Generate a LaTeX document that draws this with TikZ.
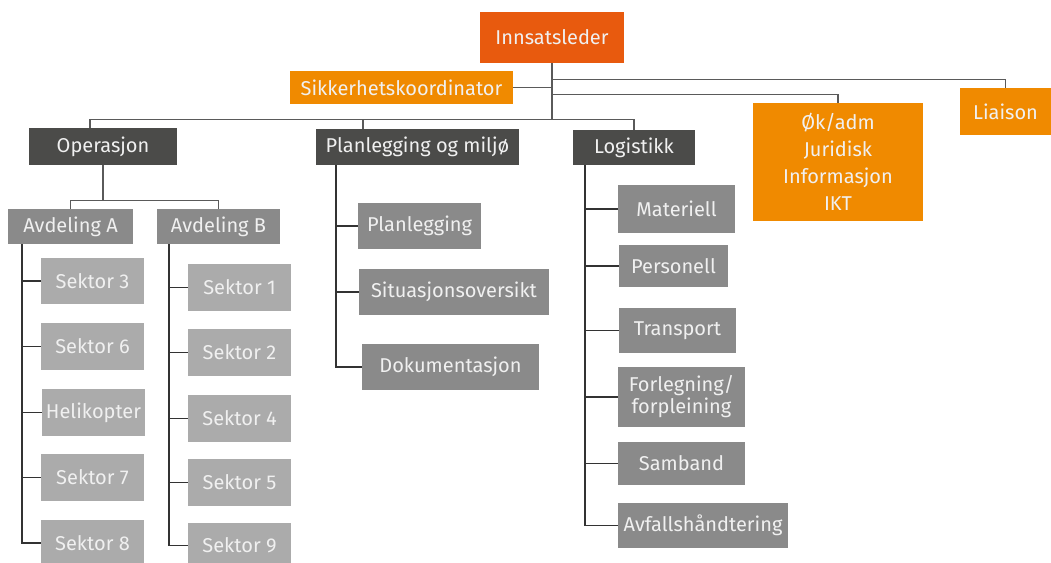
\documentclass[tikz,border=0pt]{standalone}
\usepackage{fontspec}
\setmainfont{Fira Sans}
\definecolor{insor}{HTML}{E85A0E}
\definecolor{ora}{HTML}{F08A00}
\definecolor{dark}{HTML}{4B4B49}
\definecolor{midg}{HTML}{8A8A8A}
\definecolor{ligg}{HTML}{ABABAB}
\definecolor{txt}{HTML}{F0F0F0}
\definecolor{linec}{HTML}{5A5A5A}
\begin{document}
\begin{tikzpicture}[x=1pt,y=-1pt,
  box/.style={inner sep=0pt, text=txt, font=\fontsize{20}{23}\selectfont, align=center},
  insbox/.style={box, fill=insor},
  orbox/.style={box, fill=ora},
  dkbox/.style={box, fill=dark},
  mdbox/.style={box, fill=midg},
  ltbox/.style={box, fill=ligg},
  conn/.style={draw=linec, line width=1.3pt},
  trunk/.style={draw=black!80, line width=1.4pt}]
\useasboundingbox (0,0) rectangle (1051,562);
\fill[white] (0,0) rectangle (1051,562);

% top level
\node[insbox, minimum width=144, minimum height=51] (ins) at (552,37.5) {Innsatsleder};
\node[orbox, minimum width=223, minimum height=33] (sik) at (401.5,87.5) {Sikkerhetskoordinator};
\node[orbox, minimum width=170, minimum height=118, font=\fontsize{20}{27}\selectfont] (ok) at (838,162) {Øk/adm\\Juridisk\\Informasjon\\IKT};
\node[orbox, minimum width=91, minimum height=47] (lia) at (1005.5,111.5) {Liaison};

% second level
\node[dkbox, minimum width=148, minimum height=37] (op) at (103,146.5) {Operasjon};
\node[dkbox, minimum width=203, minimum height=36] (plm) at (417.5,147) {Planlegging og miljø};
\node[dkbox, minimum width=122, minimum height=35] (log) at (634,147.5) {Logistikk};

% Operasjon
\node[mdbox, minimum width=125, minimum height=35] (avA) at (70.5,226.5) {Avdeling A};
\node[mdbox, minimum width=123, minimum height=35] (avB) at (218.5,226.5) {Avdeling B};

\node[ltbox, minimum width=103, minimum height=46] (s3) at (92.5,281) {Sektor 3};
\node[ltbox, minimum width=103, minimum height=47] (s6) at (92.5,346.5) {Sektor 6};
\node[ltbox, minimum width=103, minimum height=47] (heli) at (93.5,412.5) {Helikopter};
\node[ltbox, minimum width=103, minimum height=47] (s7) at (92.5,477.5) {Sektor 7};
\node[ltbox, minimum width=103, minimum height=46] (s8) at (92.5,543) {Sektor 8};

\node[ltbox, minimum width=103, minimum height=47] (s1) at (239.5,287.5) {Sektor 1};
\node[ltbox, minimum width=103, minimum height=47] (s2) at (239.5,352.5) {Sektor 2};
\node[ltbox, minimum width=103, minimum height=47] (s4) at (239.5,418.5) {Sektor 4};
\node[ltbox, minimum width=103, minimum height=47] (s5) at (239.5,482.5) {Sektor 5};
\node[ltbox, minimum width=103, minimum height=45] (s9) at (239.5,545.5) {Sektor 9};

% Planlegging
\node[mdbox, minimum width=123, minimum height=46] (pl) at (419.5,226) {Planlegging};
\node[mdbox, minimum width=190, minimum height=46] (sit) at (454,292) {Situasjonsoversikt};
\node[mdbox, minimum width=177, minimum height=46] (dok) at (450.5,367) {Dokumentasjon};

% Logistikk
\node[mdbox, minimum width=117, minimum height=48] (mat) at (676.5,209) {Materiell};
\node[mdbox, minimum width=109, minimum height=42] (per) at (673.5,266) {Personell};
\node[mdbox, minimum width=117, minimum height=45] (tra) at (677.5,330.5) {Transport};
\node[mdbox, minimum width=127, minimum height=60, font=\fontsize{20}{22}\selectfont] (for) at (681.5,397) {Forlegning/\\forpleining};
\node[mdbox, minimum width=127, minimum height=43] (sam) at (681.5,463.5) {Samband};
\node[mdbox, minimum width=170, minimum height=45] (avf) at (703,525.5) {Avfallshåndtering};

% top connectors
\draw[conn] (ins.south) -- ++(0,56) coordinate (j);
\draw[conn] (sik.east) -- (sik.east -| ins.south);
\draw[conn] (ins.south) ++(0,16) -| (lia.north);
\draw[conn] (ins.south) ++(0,31) -| (ok.north);
\draw[conn] ([xshift=-13pt]op.north) |- (j);
\draw[conn] (j) -| (log.north);
\draw[conn] ([xshift=-54.5pt]plm.north) -- ++(0,-10);

% Operasjon connectors
\draw[conn] (op.south) -- ++(0,35) coordinate (oj);
\draw[conn] (avA.north) |- (oj) -| (avB.north);

\coordinate (tA) at ([xshift=14pt]avA.south west);
\coordinate (tB) at ([xshift=12pt]avB.south west);
\draw[trunk] (tA) |- (s8.west);
\foreach \n in {s3,s6,heli,s7} \draw[trunk] (\n.west) -- (\n.west -| tA);
\draw[trunk] (tB) |- (s9.west);
\foreach \n in {s1,s2,s4,s5} \draw[trunk] (\n.west) -- (\n.west -| tB);

\coordinate (tP) at ([xshift=20pt]plm.south west);
\draw[trunk] (tP) |- (dok.west);
\foreach \n in {pl,sit} \draw[trunk] (\n.west) -- (\n.west -| tP);

\coordinate (tL) at ([xshift=12pt]log.south west);
\draw[trunk] (tL) |- (avf.west);
\foreach \n in {mat,per,tra,for,sam} \draw[trunk] (\n.west) -- (\n.west -| tL);
\end{tikzpicture}
\end{document}
